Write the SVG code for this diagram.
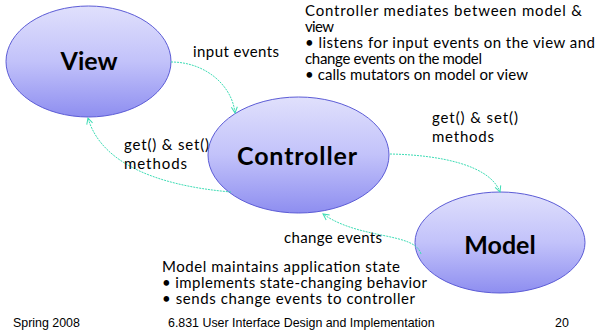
<svg xmlns="http://www.w3.org/2000/svg" width="600" height="332" viewBox="0 0 600 332">
<style>
.node{stroke:#5c5cd6;stroke-width:1;fill:url(#g)}
.lbl{font-family:"Lato","Open Sans",sans-serif;font-weight:bold;font-size:25px;fill:#000;text-anchor:middle}
.t{font-family:"Lato","Open Sans",sans-serif;font-size:15px;fill:#000}
.f{font-family:"Liberation Sans",Arial,sans-serif;font-size:12.4px;fill:#000}
.c{fill:none;stroke:#3ddcb4;stroke-width:1;stroke-dasharray:2 1}
</style>
<defs>
<linearGradient id="g" x1="0" y1="0" x2="0" y2="1">
<stop offset="0" stop-color="#e0e0fc"/>
<stop offset="0.5" stop-color="#c2c2fa"/>
<stop offset="1" stop-color="#8e8ef0"/>
</linearGradient>
<marker id="a" markerWidth="8" markerHeight="8" refX="7" refY="4" orient="auto" markerUnits="userSpaceOnUse">
<path d="M1,1 L7,4 L1,7" fill="none" stroke="#3ddcb4" stroke-width="1"/>
</marker>
</defs>
<g id="view">
<ellipse class="node" cx="88.5" cy="61.5" rx="82.5" ry="55.5"/>
<text class="lbl" x="89" y="70">View</text>
</g>
<g id="controller">
<ellipse class="node" cx="298.5" cy="155" rx="90.5" ry="58"/>
<text class="lbl" x="297" y="165" textLength="120">Controller</text>
</g>
<g id="model">
<ellipse class="node" cx="500" cy="242.5" rx="85" ry="50.5"/>
<text class="lbl" x="500" y="254">Model</text>
</g>
<g id="connectors">
<path class="c" marker-end="url(#a)" d="M171,62 C205,62 232,85 235,113"/>
<path class="c" marker-end="url(#a)" d="M231,192 C150,185 100,160 88,118"/>
<path class="c" marker-end="url(#a)" d="M390,154 C440,155 490,165 500,192"/>
<path class="c" marker-end="url(#a)" d="M421,254 C415,232 360,240 323,214"/>
</g>
<g id="labels">
<text class="t" x="193" y="57" textLength="86" lengthAdjust="spacing">input events</text>
<text class="t" x="124" y="150" textLength="85" lengthAdjust="spacing">get() &amp; set()</text>
<text class="t" x="124" y="169" textLength="63" lengthAdjust="spacing">methods</text>
<text class="t" x="432" y="123" textLength="86" lengthAdjust="spacing">get() &amp; set()</text>
<text class="t" x="432" y="142" textLength="62" lengthAdjust="spacing">methods</text>
<text class="t" x="284" y="243" textLength="98" lengthAdjust="spacing">change events</text>
<text class="t" x="305" y="16" textLength="277" lengthAdjust="spacing">Controller mediates between model &amp;</text>
<text class="t" x="305" y="32" textLength="29" lengthAdjust="spacing">view</text>
<text class="t" x="305" y="48" textLength="290" lengthAdjust="spacing">• listens for input events on the view and</text>
<text class="t" x="305" y="64" textLength="177" lengthAdjust="spacing">change events on the model</text>
<text class="t" x="305" y="80" textLength="223" lengthAdjust="spacing">• calls mutators on model or view</text>
<text class="t" x="162" y="272" textLength="238" lengthAdjust="spacing">Model maintains application state</text>
<text class="t" x="162" y="288" textLength="265" lengthAdjust="spacing">• implements state-changing behavior</text>
<text class="t" x="162" y="304" textLength="253" lengthAdjust="spacing">• sends change events to controller</text>
</g>
<g id="footer">
<text class="f" x="13" y="327">Spring 2008</text>
<text class="f" x="168" y="327">6.831 User Interface Design and Implementation</text>
<text class="f" x="555" y="327">20</text>
</g>
</svg>
